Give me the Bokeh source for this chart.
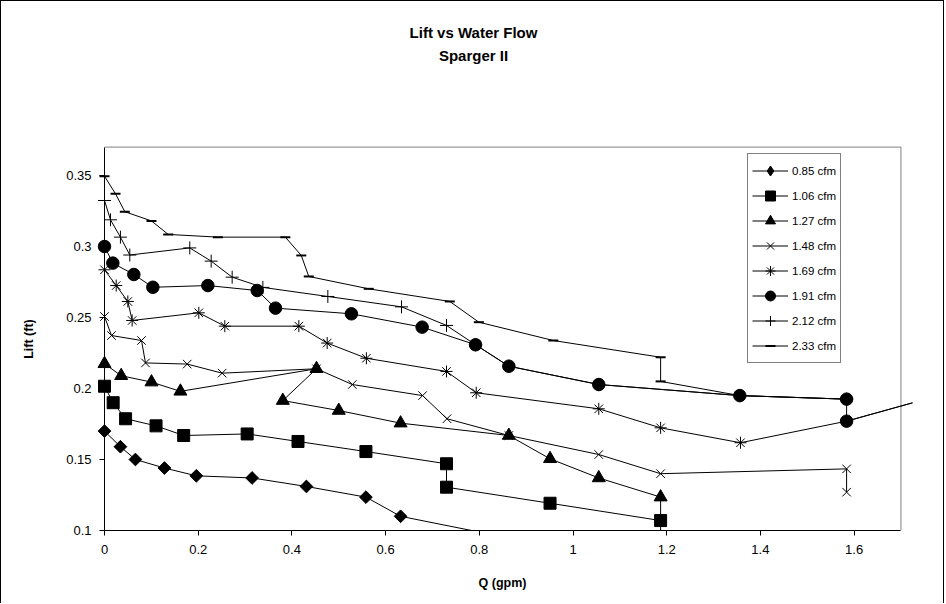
import math
from bokeh.plotting import figure
from bokeh.models import Range1d, FixedTicker, Label, Legend, LegendItem, BoxAnnotation
from bokeh.embed import file_html
from bokeh.resources import INLINE

# ---------------- data ----------------
q_085 = [0, 0.034, 0.066, 0.128, 0.196, 0.315, 0.431, 0.558, 0.632, 0.95]
lift_085 = [0.170, 0.159, 0.150, 0.144, 0.1385, 0.137, 0.131, 0.1235, 0.110, 0.089]

q_106 = [0, 0.0185, 0.045, 0.110, 0.169, 0.3045, 0.413, 0.558, 0.730, 0.730, 0.951, 1.187]
lift_106 = [0.2016, 0.190, 0.1787, 0.1737, 0.1669, 0.168, 0.1627, 0.1556, 0.147, 0.1305, 0.1192, 0.107]

q_127 = [0, 0.0356, 0.1003, 0.162, 0.4525, 0.3806, 0.50, 0.632, 0.863, 0.951, 1.055, 1.187, 1.187]
lift_127 = [0.2174, 0.2090, 0.2045, 0.198, 0.2139, 0.1915, 0.1845, 0.1756, 0.1669, 0.1505, 0.137, 0.1235, 0.09]

q_148 = [0, 0.015, 0.079, 0.0875, 0.1765, 0.251, 0.4525, 0.529, 0.679, 0.731, 0.863, 1.055, 1.187, 1.584, 1.584]
lift_148 = [0.2507, 0.2373, 0.2338, 0.218, 0.2172, 0.2108, 0.2139, 0.2028, 0.195, 0.1787, 0.1669, 0.1535, 0.140, 0.1434, 0.127]

q_169 = [0, 0.025, 0.0498, 0.059, 0.2013, 0.2568, 0.4148, 0.4753, 0.559, 0.730, 0.7934, 1.055, 1.187, 1.3575, 1.584, 1.9]
lift_169 = [0.2836, 0.2725, 0.2613, 0.2479, 0.2533, 0.2439, 0.2439, 0.232, 0.2213, 0.212, 0.197, 0.1857, 0.1723, 0.1618, 0.177, 0.206]

q_191 = [0, 0.0178, 0.0626, 0.1032, 0.2206, 0.326, 0.365, 0.527, 0.678, 0.792, 0.863, 1.055, 1.356, 1.584, 1.584, 1.9]
lift_191 = [0.300, 0.2883, 0.2803, 0.2713, 0.2725, 0.269, 0.2566, 0.2526, 0.2432, 0.2308, 0.2157, 0.2028, 0.195, 0.1925, 0.177, 0.206]

q_212 = [0, 0.0128, 0.034, 0.054, 0.182, 0.2277, 0.2725, 0.338, 0.4767, 0.634, 0.730, 0.792, 0.863, 1.055, 1.356, 1.584]
lift_212 = [0.3324, 0.3188, 0.3066, 0.294, 0.299, 0.2897, 0.2784, 0.2712, 0.2648, 0.2575, 0.2444, 0.2308, 0.2157, 0.2028, 0.195, 0.1925]

q_233 = [0, 0.0235, 0.0434, 0.1003, 0.136, 0.242, 0.386, 0.42, 0.436, 0.564, 0.737, 0.799, 0.958, 1.187, 1.187, 1.356, 1.584]
lift_233 = [0.3495, 0.3371, 0.3245, 0.318, 0.3085, 0.3066, 0.3066, 0.2937, 0.2789, 0.2702, 0.2613, 0.2467, 0.2338, 0.222, 0.205, 0.195, 0.1925]

series_names = ["0.85 cfm", "1.06 cfm", "1.27 cfm", "1.48 cfm", "1.69 cfm", "1.91 cfm", "2.12 cfm", "2.33 cfm"]
series_q = [q_085, q_106, q_127, q_148, q_169, q_191, q_212, q_233]
series_lift = [lift_085, lift_106, lift_127, lift_148, lift_169, lift_191, lift_212, lift_233]

x_ticks = [0, 0.2, 0.4, 0.6, 0.8, 1.0, 1.2, 1.4, 1.6]
x_tick_labels = ["0", "0.2", "0.4", "0.6", "0.8", "1", "1.2", "1.4", "1.6"]
y_ticks = [0.1, 0.15, 0.2, 0.25, 0.3, 0.35]
y_tick_labels = ["0.1", "0.15", "0.2", "0.25", "0.3", "0.35"]

x_min, x_max = 0, 1.7
y_min, y_max = 0.1, 0.37

title_text = "Lift vs Water Flow"
subtitle_text = "Sparger II"
x_label = "Q (gpm)"
y_label = "Lift (ft)"

# ---------------- styles ----------------
FONT = "Liberation Sans"
marker_styles = [
    dict(marker="square", size=9, angle=math.pi / 4, fill_color="black", legend_marker="diamond"),
    dict(marker="square", size=12, angle=0, fill_color="black", legend_marker=None),
    dict(marker="triangle", size=13, angle=0, fill_color="black", legend_marker=None),
    dict(marker="x", size=12, angle=0, fill_color=None, legend_marker=None),
    dict(marker="asterisk", size=12, angle=0, fill_color=None, legend_marker=None),
    dict(marker="circle", size=12.5, angle=0, fill_color="black", legend_marker=None),
    dict(marker="cross", size=13, angle=0, fill_color=None, legend_marker=None),
    dict(marker="dash", size=10, angle=0, fill_color=None, legend_marker=None),
]

# pixel mapping of the reference: x px = 103 + 468.5*q (canvas), y px = 529 - 1420*(lift-0.1)
p = figure(width=944, height=603, output_backend="svg", toolbar_location=None,
           x_range=Range1d(-103 / 468.5, 808 / 468.5),
           y_range=Range1d(0.1 - 74 / 1420, 0.1 + 529 / 1420),
           min_border_left=0, min_border_right=33, min_border_top=0, min_border_bottom=0)
p.styles = {"border-top": "1px solid black", "border-left": "1px solid black",
            "border-right": "1px solid black"}
p.outline_line_color = None
p.grid.visible = False
p.background_fill_color = "white"
p.border_fill_color = "white"

# plot-area border (top and right, grey)
p.segment(x0=[x_min], y0=[y_max], x1=[x_max], y1=[y_max], line_color="#808080", line_width=1)
p.segment(x0=[x_max], y0=[y_min], x1=[x_max], y1=[y_max], line_color="#808080", line_width=1)

items = []
for name, qs, ls, ms in zip(series_names, series_q, series_lift, marker_styles):
    lr = p.line(qs, ls, line_color="black", line_width=1)
    lw = 2 if ms["marker"] == "dash" else 1
    sr = p.scatter(qs, ls, marker=ms["marker"], size=ms["size"], angle=ms["angle"],
                   fill_color=ms["fill_color"], line_color="black", line_width=lw)
    if ms["legend_marker"]:
        # hidden twin of the series, used only for its legend swatch (diamond shape)
        pr = p.scatter(qs, ls, marker=ms["legend_marker"], size=ms["size"],
                       fill_color="black", line_color="black", visible=False)
        items.append(LegendItem(label=name, renderers=[lr, pr]))
    else:
        items.append(LegendItem(label=name, renderers=[lr, sr]))

# everything below the x axis is outside the plot area: mask it
p.add_layout(BoxAnnotation(top=y_min, fill_color="white", fill_alpha=1.0, line_color=None,
                           level="glyph"))

legend = Legend(items=items, location=(746, 241), border_line_color="black", border_line_width=1,
                background_fill_color="white", background_fill_alpha=1.0,
                label_text_font=FONT, label_text_font_size="11.5px", label_text_color="black",
                glyph_height=25, glyph_width=36, label_height=25, spacing=0, padding=4,
                label_standoff=4, margin=0)
p.add_layout(legend)

# axes (placed at data positions inside the frame)
xa = p.xaxis[0]
ya = p.yaxis[0]
xa.ticker = FixedTicker(ticks=x_ticks)
ya.ticker = FixedTicker(ticks=y_ticks)
xa.major_label_overrides = dict(zip(x_ticks, x_tick_labels))
ya.major_label_overrides = dict(zip(y_ticks, y_tick_labels))
xa.bounds = (x_min, x_max)
ya.bounds = (y_min, y_max)
xa.fixed_location = y_min
ya.fixed_location = x_min
for ax in (xa, ya):
    ax.axis_line_color = "black"
    ax.axis_line_width = 1
    ax.major_tick_line_color = "black"
    ax.major_tick_out = 5
    ax.major_tick_in = 0
    ax.minor_tick_line_color = None
    ax.major_label_text_font = FONT
    ax.major_label_text_font_size = "13px"
    ax.major_label_text_color = "black"
    ax.axis_label_text_font = FONT
    ax.axis_label_text_font_size = "12.5px"
    ax.axis_label_text_font_style = "bold"
    ax.axis_label_text_color = "black"
xa.major_label_standoff = 9
ya.major_label_standoff = 8
xa.axis_label = x_label
ya.axis_label = y_label
xa.axis_label_standoff = 19
ya.axis_label_standoff = 27

# titles
p.add_layout(Label(x=472, y=572, x_units="screen", y_units="screen", text=title_text,
                   text_font=FONT, text_font_size="15px", text_font_style="bold",
                   text_align="center", text_baseline="middle", text_color="black"))
p.add_layout(Label(x=472, y=549, x_units="screen", y_units="screen", text=subtitle_text,
                   text_font=FONT, text_font_size="15px", text_font_style="bold",
                   text_align="center", text_baseline="middle", text_color="black"))

open("out.html", "w").write(file_html(p, INLINE))
